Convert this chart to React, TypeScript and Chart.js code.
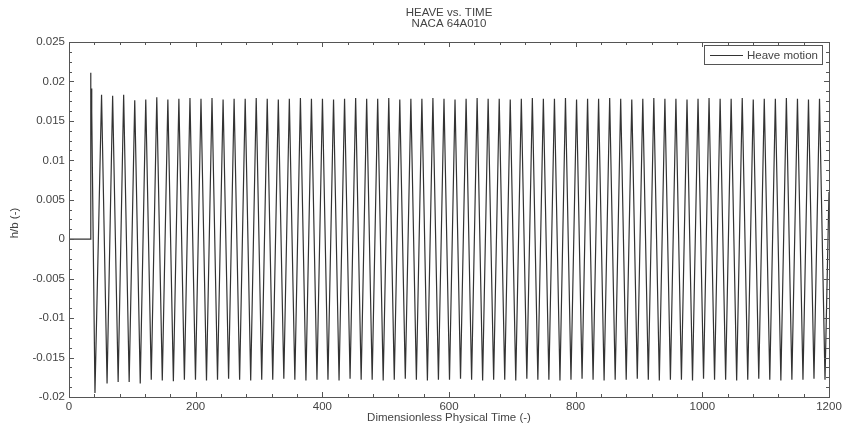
import React, { useEffect, useRef } from "react";
import { Chart, registerables } from "chart.js";

Chart.register(...registerables);

const titleLines = ["HEAVE vs. TIME", "NACA 64A010"];
const xAxisTitle = "Dimensionless Physical Time (-)";
const yAxisTitle = "h/b (-)";
const seriesLabel = "Heave motion";

const xTickValues = [0, 200, 400, 600, 800, 1000, 1200];
const xTickLabels = ["0", "200", "400", "600", "800", "1000", "1200"];
const yTickValues = [-0.02, -0.015, -0.01, -0.005, 0, 0.005, 0.01, 0.015, 0.02, 0.025];
const yTickLabels = ["-0.02", "-0.015", "-0.01", "-0.005", "0", "0.005", "0.01", "0.015", "0.02", "0.025"];

// start-up transient
const startTimes = [0, 33.6, 34.1, 34.7, 35.3, 35.9];
const startValues = [0, 0, 0.0211, 0.0164, 0.0191, 0.0162];

// oscillation crests
const peakTimes = [
  51.4, 68.9, 86.3, 103.8, 121.2, 138.6, 156.1, 173.5, 191.0, 208.4,
  225.8, 243.3, 260.7, 278.2, 295.6, 313.0, 330.5, 347.9, 365.4, 382.8,
  400.2, 417.7, 435.1, 452.6, 470.0, 487.4, 504.9, 522.3, 539.8, 557.2,
  574.6, 592.1, 609.5, 627.0, 644.4, 661.8, 679.3, 696.7, 714.2, 731.6,
  749.0, 766.5, 783.9, 801.4, 818.8, 836.2, 853.7, 871.1, 888.6, 906.0,
  923.4, 940.9, 958.3, 975.8, 993.2, 1010.6, 1028.1, 1045.5, 1063.0, 1080.4,
  1097.8, 1115.3, 1132.7, 1150.2, 1167.6, 1185.0,
];
const peakValues = [
  0.0183, 0.0182, 0.0183, 0.0176, 0.0177, 0.0180, 0.0177, 0.0178, 0.0179, 0.0178,
  0.0179, 0.0177, 0.0178, 0.0178, 0.0179, 0.0178, 0.0177, 0.0178, 0.0179, 0.0178,
  0.0178, 0.0177, 0.0178, 0.0179, 0.0178, 0.0178, 0.0179, 0.0177, 0.0178, 0.0178,
  0.0179, 0.0178, 0.0177, 0.0178, 0.0179, 0.0178, 0.0178, 0.0177, 0.0178, 0.0179,
  0.0178, 0.0178, 0.0179, 0.0177, 0.0178, 0.0178, 0.0179, 0.0178, 0.0177, 0.0178,
  0.0179, 0.0178, 0.0178, 0.0177, 0.0178, 0.0179, 0.0178, 0.0178, 0.0179, 0.0177,
  0.0178, 0.0178, 0.0179, 0.0178, 0.0177, 0.0178,
];

// oscillation troughs
const troughTimes = [
  41.0, 60.1, 77.6, 95.0, 112.5, 129.9, 147.3, 164.8, 182.2, 199.7,
  217.1, 234.5, 252.0, 269.4, 286.9, 304.3, 321.7, 339.2, 356.6, 374.1,
  391.5, 408.9, 426.4, 443.8, 461.3, 478.7, 496.1, 513.6, 531.0, 548.5,
  565.9, 583.3, 600.8, 618.2, 635.7, 653.1, 670.5, 688.0, 705.4, 722.9,
  740.3, 757.7, 775.2, 792.6, 810.1, 827.5, 844.9, 862.4, 879.8, 897.3,
  914.7, 932.1, 949.6, 967.0, 984.5, 1001.9, 1019.3, 1036.8, 1054.2, 1071.7,
  1089.1, 1106.5, 1124.0, 1141.4, 1158.9, 1176.3, 1193.7,
];
const troughValues = [
  -0.0195, -0.0183, -0.0181, -0.0181, -0.0183, -0.0178, -0.0179, -0.0180, -0.0178, -0.0178,
  -0.0179, -0.0178, -0.0177, -0.0178, -0.0179, -0.0178, -0.0178, -0.0177, -0.0178, -0.0179,
  -0.0178, -0.0178, -0.0179, -0.0177, -0.0178, -0.0178, -0.0179, -0.0178, -0.0177, -0.0178,
  -0.0179, -0.0178, -0.0178, -0.0177, -0.0178, -0.0179, -0.0178, -0.0178, -0.0179, -0.0177,
  -0.0178, -0.0178, -0.0179, -0.0178, -0.0177, -0.0178, -0.0179, -0.0178, -0.0178, -0.0177,
  -0.0178, -0.0179, -0.0178, -0.0178, -0.0179, -0.0177, -0.0178, -0.0178, -0.0179, -0.0178,
  -0.0177, -0.0178, -0.0179, -0.0178, -0.0178, -0.0177, -0.0178,
];

// value where the record ends
const endTimes = [1200];
const endValues = [0.006];

const FONT = "'Liberation Sans', Arial, sans-serif";
const TEXT = "#444444";
const AXIS = "#555555";

function buildPoints() {
  const pts: { x: number; y: number }[] = [];
  startTimes.forEach((t, i) => pts.push({ x: t, y: startValues[i] }));
  peakTimes.forEach((t, i) => pts.push({ x: t, y: peakValues[i] }));
  troughTimes.forEach((t, i) => pts.push({ x: t, y: troughValues[i] }));
  endTimes.forEach((t, i) => pts.push({ x: t, y: endValues[i] }));
  pts.sort((a, b) => a.x - b.x);
  return pts;
}

const framePlugin = {
  id: "matlabFrame",
  afterDraw(chart: any) {
    const { ctx, chartArea } = chart;
    const { left, right, top, bottom } = chartArea;
    const xs = chart.scales.x;
    const ys = chart.scales.y;
    ctx.save();
    ctx.strokeStyle = AXIS;
    ctx.lineWidth = 1;
    ctx.strokeRect(Math.round(left) + 0.5, Math.round(top) + 0.5, Math.round(right - left), Math.round(bottom - top));
    const xMajor = xTickValues[1] - xTickValues[0];
    const xMinor = xMajor / 5;
    ctx.beginPath();
    for (let v = xs.min; v <= xs.max + 1e-9; v += xMinor) {
      const px = Math.round(xs.getPixelForValue(v)) + 0.5;
      const isMajor = Math.abs(v / xMajor - Math.round(v / xMajor)) < 1e-6;
      const len = isMajor ? 5 : 3;
      ctx.moveTo(px, bottom);
      ctx.lineTo(px, bottom - len);
      ctx.moveTo(px, top);
      ctx.lineTo(px, top + len);
    }
    const yMajor = yTickValues[1] - yTickValues[0];
    const yMinor = yMajor / 4;
    for (let k = 0; ; k++) {
      const v = ys.min + k * yMinor;
      if (v > ys.max + 1e-9) break;
      const py = Math.round(ys.getPixelForValue(v)) + 0.5;
      const len = k % 4 === 0 ? 5 : 3;
      ctx.moveTo(left, py);
      ctx.lineTo(left + len, py);
      ctx.moveTo(right, py);
      ctx.lineTo(right - len, py);
    }
    ctx.stroke();

    ctx.fillStyle = TEXT;
    ctx.textAlign = "center";
    ctx.textBaseline = "middle";
    ctx.font = `11.5px ${FONT}`;
    const cx = (left + right) / 2;
    ctx.fillText(titleLines[0], cx, 13);
    ctx.fillText(titleLines[1], cx, 24);
    ctx.fillText(xAxisTitle, cx, 418);
    ctx.save();
    ctx.translate(15, 223);
    ctx.rotate(-Math.PI / 2);
    ctx.fillText(yAxisTitle, 0, 0);
    ctx.restore();

    const lx = 704.5, ly = 45.5, lw = 118, lh = 19;
    ctx.fillStyle = "#ffffff";
    ctx.fillRect(lx, ly, lw, lh);
    ctx.strokeStyle = AXIS;
    ctx.strokeRect(lx, ly, lw, lh);
    ctx.strokeStyle = "#333";
    ctx.beginPath();
    ctx.moveTo(710, 55.5);
    ctx.lineTo(743, 55.5);
    ctx.stroke();
    ctx.fillStyle = TEXT;
    ctx.textAlign = "left";
    ctx.font = `11.5px ${FONT}`;
    ctx.fillText(seriesLabel, 747, 55.5);
    ctx.restore();
  },
};

export default function App() {
  const ref = useRef<HTMLCanvasElement | null>(null);
  useEffect(() => {
    document.body.style.margin = "0";
    if (!ref.current) return;
    const chart = new Chart(ref.current, {
      type: "line",
      data: {
        datasets: [
          {
            label: seriesLabel,
            data: buildPoints(),
            borderColor: "#333333",
            borderWidth: 1.2,
            pointRadius: 0,
            tension: 0,
            fill: false,
          },
        ],
      },
      options: {
        animation: false,
        responsive: false,
        devicePixelRatio: 1,
        layout: { padding: { top: 42, right: 17, left: 0, bottom: 0 } },
        plugins: { legend: { display: false }, title: { display: false }, tooltip: { enabled: false } },
        scales: {
          x: {
            type: "linear",
            min: 0,
            max: 1200,
            grid: { display: false, drawTicks: false },
            border: { display: false },
            afterBuildTicks: (s: any) => {
              s.ticks = xTickValues.map((v) => ({ value: v }));
            },
            afterFit: (s: any) => {
              s.height = 35;
            },
            ticks: {
              padding: 3,
              color: TEXT,
              font: { family: FONT, size: 11.5 },
              maxRotation: 0,
              autoSkip: false,
              callback: (v: any) => {
                const i = xTickValues.indexOf(Number(v));
                return i >= 0 ? xTickLabels[i] : "";
              },
            },
          },
          y: {
            type: "linear",
            min: -0.02,
            max: 0.025,
            grid: { display: false, drawTicks: false },
            border: { display: false },
            afterBuildTicks: (s: any) => {
              s.ticks = yTickValues.map((v) => ({ value: v }));
            },
            afterFit: (s: any) => {
              s.width = 69;
            },
            ticks: {
              padding: 4,
              color: TEXT,
              font: { family: FONT, size: 11.5 },
              autoSkip: false,
              callback: (v: any) => {
                const i = yTickValues.findIndex((t) => Math.abs(t - Number(v)) < 1e-9);
                return i >= 0 ? yTickLabels[i] : "";
              },
            },
          },
        },
      },
      plugins: [framePlugin],
    } as any);
    return () => chart.destroy();
  }, []);
  return (
    <div style={{ width: 846, height: 432, background: "#fff" }}>
      <canvas ref={ref} width={846} height={432} style={{ display: "block" }} />
    </div>
  );
}
